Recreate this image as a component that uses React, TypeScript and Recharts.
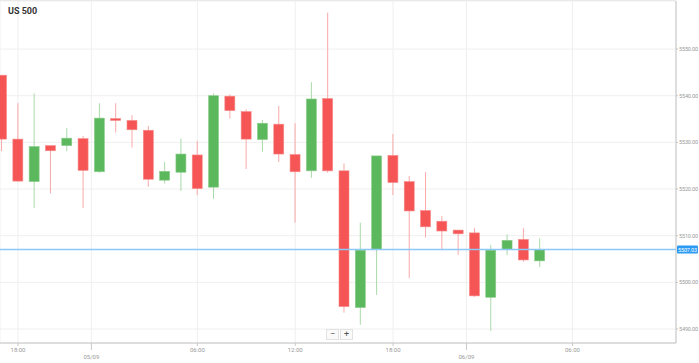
import React from "react";
import { Bar, CartesianGrid, ComposedChart, ReferenceLine, XAxis, YAxis } from "recharts";

// hourly candles (index = hour slot)
const OPEN = [
  5544.4, 5530.7, 5521.6, 5529.3, 5529.3, 5530.8, 5523.7, 5535.1, 5534.7, 5532.6, 5521.9, 5523.6,
  5527.3, 5520.4, 5539.9, 5536.6, 5530.6, 5533.9, 5527.4, 5523.9, 5539.4, 5523.9, 5494.6, 5507.1,
  5527.2, 5521.6, 5515.4, 5513.1, 5511.2, 5510.6, 5496.8, 5507.1, 5509.2, 5504.6,
];
const HIGH = [
  5544.4, 5538.4, 5540.5, 5529.3, 5533.1, 5531.4, 5538.4, 5538.4, 5535.8, 5533.5, 5525.8, 5530.8,
  5530.3, 5540.5, 5540.3, 5537.1, 5534.8, 5537.8, 5534.1, 5542.9, 5557.8, 5525.5, 5512.8, 5527.1,
  5531.8, 5522.8, 5523.6, 5514.2, 5511.2, 5511.6, 5508.0, 5510.3, 5511.6, 5509.4,
];
const LOW = [
  5528.1, 5521.6, 5515.9, 5519.1, 5528.1, 5515.9, 5523.5, 5532.1, 5528.9, 5520.5, 5521.2, 5519.6,
  5518.7, 5517.9, 5535.1, 5524.3, 5528.0, 5525.8, 5512.8, 5522.4, 5523.5, 5493.5, 5490.9, 5497.3,
  5518.7, 5500.9, 5509.6, 5507.1, 5505.9, 5496.9, 5489.6, 5505.8, 5504.4, 5503.3,
];
const CLOSE = [
  5530.7, 5521.7, 5529.1, 5528.2, 5530.9, 5524.0, 5535.2, 5534.7, 5532.7, 5522.1, 5523.8, 5527.5,
  5520.1, 5540.0, 5536.8, 5530.7, 5534.1, 5527.5, 5523.7, 5539.3, 5523.9, 5494.8, 5506.9, 5527.1,
  5521.4, 5515.3, 5511.9, 5511.0, 5510.4, 5497.1, 5506.9, 5509.0, 5504.8, 5507.03,
];

const X_TICKS = [1, 5.5, 12, 18, 24, 28.5, 35];
const X_LABELS = ["18:00", "05/09", "06:00", "12:00", "18:00", "06/09", "06:00"];
const Y_TICKS = [5490, 5500, 5510, 5520, 5530, 5540, 5550];
const LAST_PRICE = 5507.03;

const UP = "#5cb85c";
const UP_WICK = "#a9daa9";
const DOWN = "#f55555";
const DOWN_WICK = "#f9a9a9";
const FONT = "Roboto, Arial, sans-serif";

const data = OPEN.map((o, i) => ({
  i,
  open: o,
  high: HIGH[i],
  low: LOW[i],
  close: CLOSE[i],
  range: [LOW[i], HIGH[i]],
}));

function Candle(props: any) {
  const { x, y, width, height, payload } = props;
  const top = Math.min(y, y + height);
  const h = Math.abs(height);
  const span = payload.high - payload.low || 1;
  const k = h / span;
  const up = payload.close >= payload.open;
  const yOf = (v: number) => top + (payload.high - v) * k;
  const bodyTop = yOf(Math.max(payload.open, payload.close));
  const bodyH = Math.max(1.5, Math.abs(payload.open - payload.close) * k);
  const cx = x + width / 2;
  return (
    <g>
      <line x1={cx} x2={cx} y1={top} y2={top + h} stroke={up ? UP_WICK : DOWN_WICK} strokeWidth={1} />
      <rect
        x={x}
        y={bodyTop}
        width={width}
        height={bodyH}
        fill={up ? UP : DOWN}
        stroke={up ? "#8ccc8c" : "#f78a8a"}
        strokeWidth={0.6}
      />
    </g>
  );
}

function TimeTick(props: any) {
  const { x, y, index } = props;
  const label = X_LABELS[index] ?? "";
  const isDate = label.includes("/");
  return (
    <g>
      <line x1={x} x2={x} y1={y} y2={y + (isDate ? 7 : 3)} stroke="#c8c8c8" />
      <text x={x} y={y + (isDate ? 16 : 9)} textAnchor="middle" fontSize={6} fill="#999" fontFamily={FONT}>
        {label}
      </text>
    </g>
  );
}

function PriceTick(props: any) {
  const { x, y, payload } = props;
  return (
    <text x={x} y={y + 2} fontSize={5.5} fill="#999" fontFamily={FONT} letterSpacing={-0.15}>
      {Number(payload.value).toFixed(2)}
    </text>
  );
}

function PriceTag(props: any) {
  const { viewBox } = props;
  const px = viewBox.x + viewBox.width + 1;
  const py = viewBox.y;
  return (
    <g>
      <rect x={px} y={py - 4} width={21} height={8} rx={1} fill="#2b9af3" />
      <text x={px + 10.5} y={py + 2} textAnchor="middle" fontSize={5.5} fill="#fff" fontFamily={FONT} letterSpacing={-0.15}>
        {LAST_PRICE.toFixed(2)}
      </text>
    </g>
  );
}

const btn: React.CSSProperties = {
  width: 11,
  height: 9,
  border: "1px solid #e2e2e2",
  background: "#fafafa",
  fontSize: 9,
  lineHeight: "9px",
  textAlign: "center",
  color: "#555",
  fontFamily: FONT,
};

export default function App() {
  return (
    <div style={{ position: "relative", width: 699, height: 363, background: "#fff" }}>
      <style>{"body{margin:0}"}</style>
      <div style={{ position: "absolute", left: 0, top: 0, width: 676, height: 1, background: "#e6e6e6" }} />
      <ComposedChart width={699} height={363} data={data} margin={{ top: 1, right: 0, bottom: 0, left: 0 }}>
        <CartesianGrid stroke="#efefef" />
        <XAxis
          dataKey="i"
          type="number"
          domain={[-0.104, 41.35]}
          allowDataOverflow
          ticks={X_TICKS}
          interval={0}
          height={20}
          tickSize={0}
          tickMargin={0}
          tick={<TimeTick />}
          axisLine={{ stroke: "#c4c4c4" }}
        />
        <YAxis
          orientation="right"
          type="number"
          domain={[5487, 5560.3]}
          allowDataOverflow
          ticks={Y_TICKS}
          width={23}
          tickSize={2}
          tickMargin={1}
          tick={<PriceTick />}
          tickLine={{ stroke: "#c4c4c4" }}
          axisLine={{ stroke: "#c4c4c4" }}
        />
        <ReferenceLine y={LAST_PRICE} stroke="#8cc8f5" strokeWidth={1.5} label={<PriceTag />} />
        <Bar dataKey="range" barSize={10} shape={<Candle />} isAnimationActive={false} />
      </ComposedChart>
      <div
        style={{
          position: "absolute",
          left: 8,
          top: 6,
          fontFamily: FONT,
          fontWeight: 700,
          fontSize: 9,
          color: "#333",
        }}
      >
        US 500
      </div>
      <div style={{ position: "absolute", left: 326, top: 329, display: "flex", gap: 1 }}>
        <div style={btn}>−</div>
        <div style={btn}>+</div>
      </div>
    </div>
  );
}
